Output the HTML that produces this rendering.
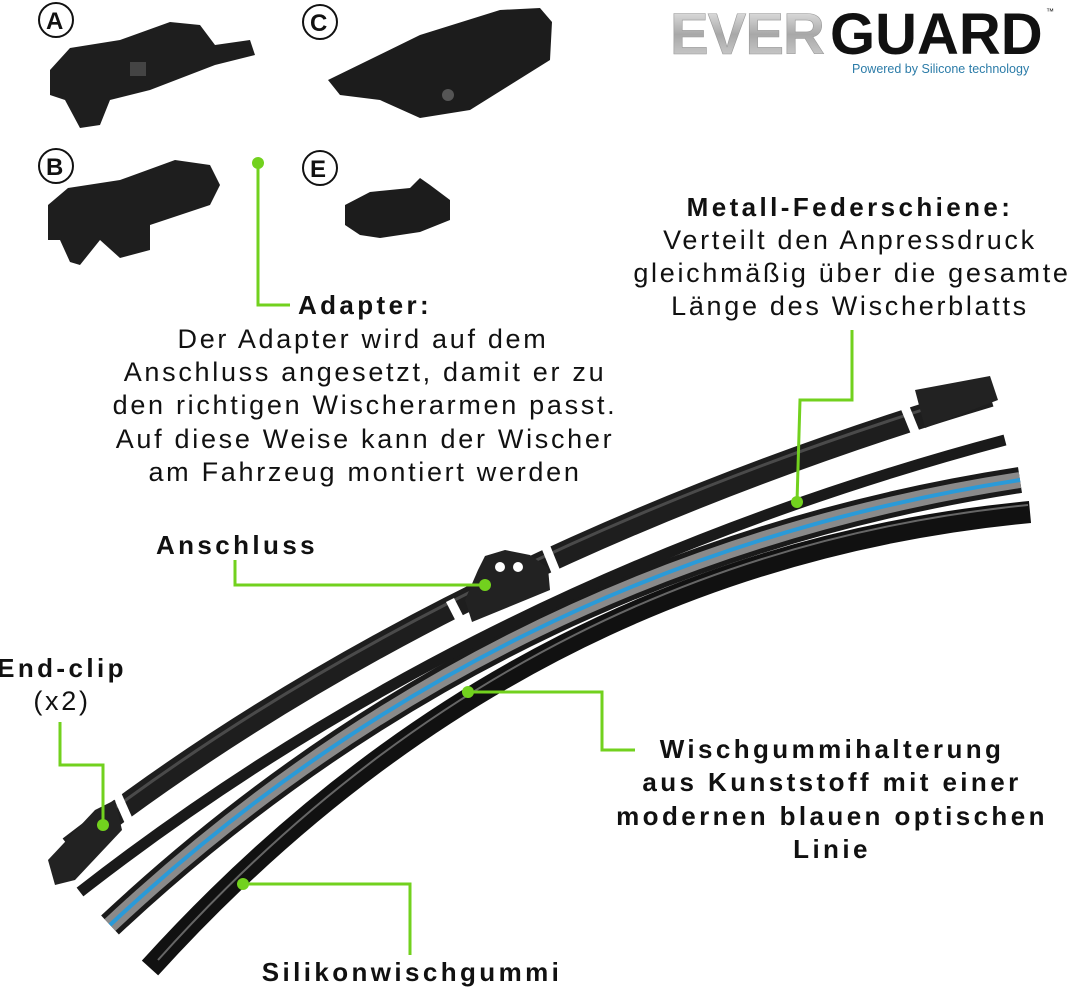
<!DOCTYPE html>
<html><head><meta charset="utf-8"><style>
body{margin:0;background:#fff;}
svg{display:block;}
text{font-family:"Liberation Sans",sans-serif;fill:#111;}
.b{font-weight:bold;font-size:26px;letter-spacing:3.4px;}
.n{font-size:27px;letter-spacing:2.7px;}
</style></head><body>
<svg width="1080" height="990" viewBox="0 0 1080 990">
<defs>
<linearGradient id="sil" x1="0" x2="0" y1="0" y2="1"><stop offset="0" stop-color="#f2f2f2"/><stop offset="0.5" stop-color="#a8a8a8"/><stop offset="1" stop-color="#d8d8d8"/></linearGradient>
</defs>
<!-- logo -->
<text x="670" y="54" style="font-size:58px;font-weight:bold;fill:url(#sil);stroke:#999;stroke-width:0.6;letter-spacing:-1px">EVER</text>
<text x="830" y="54" style="font-size:58px;font-weight:bold;fill:#111;letter-spacing:0px">GUARD</text>
<text x="1046" y="14" style="font-size:8px">™</text>
<text x="852" y="73" style="font-size:12.5px;fill:#2c7ca8">Powered by Silicone technology</text>

<!-- component circles -->
<g style="font-size:24px;font-weight:bold">
<circle cx="56" cy="20" r="17" fill="#fff" stroke="#111" stroke-width="2"/><text x="46" y="29">A</text>
<circle cx="320" cy="22" r="17" fill="#fff" stroke="#111" stroke-width="2"/><text x="310" y="31">C</text>
<circle cx="56" cy="166" r="17" fill="#fff" stroke="#111" stroke-width="2"/><text x="46" y="175">B</text>
<circle cx="320" cy="168" r="17" fill="#fff" stroke="#111" stroke-width="2"/><text x="310" y="177">E</text>
</g>
<!-- part A -->
<path d="M50 70 L70 48 L120 40 L170 22 L200 25 L215 45 L250 40 L255 55 L215 65 L150 90 L110 100 L100 125 L80 128 L65 100 L50 95 Z" fill="#1e1e1e"/>
<rect x="130" y="62" width="16" height="14" fill="#444"/>
<!-- part C -->
<path d="M328 80 L420 35 L500 10 L540 8 L552 22 L550 60 L470 110 L420 118 L380 100 L340 95 Z" fill="#1c1c1c"/>
<circle cx="448" cy="95" r="6" fill="#555"/>
<!-- part B -->
<path d="M48 205 L68 188 L120 180 L175 160 L210 165 L220 185 L210 205 L180 215 L150 225 L150 250 L120 258 L100 240 L80 265 L70 262 L60 240 L48 240 Z" fill="#1e1e1e"/>
<!-- part E -->
<path d="M345 205 L370 192 L410 188 L420 178 L430 185 L450 200 L450 220 L420 232 L380 238 L360 235 L345 225 Z" fill="#1c1c1c"/>

<!-- blade pieces -->
<path d="M150 968 Q 520 560 1030 512" fill="none" stroke="#111" stroke-width="22"/>
<path d="M158 960 Q 520 556 1028 505" fill="none" stroke="#666" stroke-width="2"/>
<path d="M110 925 Q 500 560 1020 480" fill="none" stroke="#1a1a1a" stroke-width="26"/>
<path d="M110 925 Q 500 560 1020 480" fill="none" stroke="#8a8a8a" stroke-width="16"/>
<path d="M110 925 Q 500 560 1020 480" fill="none" stroke="#2a9ad8" stroke-width="4"/>
<path d="M80 892 Q 480 580 1005 440" fill="none" stroke="#1a1a1a" stroke-width="11"/>
<path d="M70 848 Q 440 560 990 395" fill="none" stroke="#1e1e1e" stroke-width="24"/>
<path d="M70 842 Q 440 554 990 389" fill="none" stroke="#4a4a4a" stroke-width="3"/>
<g stroke="#fff" stroke-width="9">
<line x1="115" y1="790" x2="135" y2="835"/>
<line x1="450" y1="600" x2="468" y2="635"/>
<line x1="545" y1="545" x2="560" y2="582"/>
<line x1="900" y1="395" x2="915" y2="432"/>
</g>
<path d="M48 860 L95 810 L115 800 L122 830 L75 880 L55 885 Z" fill="#222"/>
<path d="M915 390 L990 376 L998 400 L925 428 Z" fill="#222"/>
<path d="M465 600 L478 570 L485 556 L505 550 L530 555 L548 568 L550 590 L472 622 Z" fill="#222"/>
<circle cx="500" cy="567" r="5" fill="#fff"/><circle cx="518" cy="567" r="5" fill="#fff"/>

<!-- green leaders -->
<g fill="none" stroke="#72d11e" stroke-width="3">
<polyline points="258,163 258,305 290,305"/>
<polyline points="797,502 800,400 852,400 852,330"/>
<polyline points="235,560 235,585 485,585"/>
<polyline points="60,722 60,765 103,765 103,825"/>
<polyline points="468,692 602,692 602,750 635,750"/>
<polyline points="243,884 410,884 410,955"/>
</g>
<g fill="#72d11e">
<circle cx="258" cy="163" r="6"/><circle cx="797" cy="502" r="6"/><circle cx="485" cy="585" r="6"/>
<circle cx="103" cy="825" r="6"/><circle cx="468" cy="692" r="6"/><circle cx="243" cy="884" r="6"/>
</g>

<!-- labels -->
<g text-anchor="middle">
<text class="b" x="850" y="216">Metall-Federschiene:</text>
<text class="n" x="850" y="249">Verteilt den Anpressdruck</text>
<text class="n" x="852" y="282">gleichmäßig über die gesamte</text>
<text class="n" x="850" y="315">Länge des Wischerblatts</text>

<text class="b" x="365" y="314">Adapter:</text>
<text class="n" x="363" y="348">Der Adapter wird auf dem</text>
<text class="n" x="365" y="381">Anschluss angesetzt, damit er zu</text>
<text class="n" x="365" y="414">den richtigen Wischerarmen passt.</text>
<text class="n" x="365" y="448">Auf diese Weise kann der Wischer</text>
<text class="n" x="365" y="481">am Fahrzeug montiert werden</text>

<text class="b" x="237" y="554">Anschluss</text>
<text class="b" x="62" y="677">End-clip</text>
<text class="n" x="62" y="710">(x2)</text>

<text class="b" x="832" y="758">Wischgummihalterung</text>
<text class="b" x="832" y="791">aus Kunststoff mit einer</text>
<text class="b" x="832" y="825">modernen blauen optischen</text>
<text class="b" x="832" y="858">Linie</text>

<text class="b" x="412" y="981">Silikonwischgummi</text>
</g>
</svg>
</body></html>
